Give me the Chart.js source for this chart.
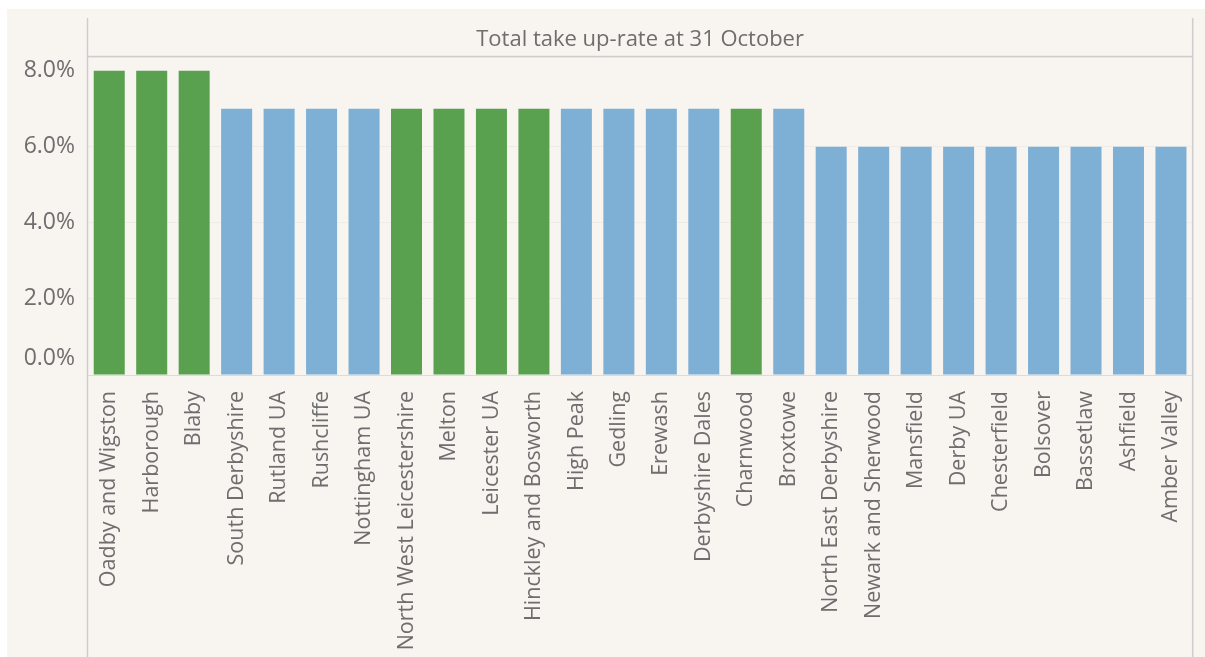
<!DOCTYPE html>
<html>
<head>
<meta charset="utf-8">
<script src="https://cdn.jsdelivr.net/npm/chart.js@4"></script>
<style>
html, body { margin: 0; padding: 0; background: #fff; overflow: hidden; }
#wrap { position: absolute; left: 7px; top: 9px; width: 1198px; height: 648px; background: #f8f4f0; }
</style>
</head>
<body>
<div id="wrap"><canvas id="chart" width="1198" height="648"></canvas></div>
<script>
// values (percent)
var categories = [
	'Oadby and Wigston', 'Harborough', 'Blaby', 'South Derbyshire', 'Rutland UA',
	'Rushcliffe', 'Nottingham UA', 'North West Leicestershire', 'Melton', 'Leicester UA',
	'Hinckley and Bosworth', 'High Peak', 'Gedling', 'Erewash', 'Derbyshire Dales',
	'Charnwood', 'Broxtowe', 'North East Derbyshire', 'Newark and Sherwood', 'Mansfield',
	'Derby UA', 'Chesterfield', 'Bolsover', 'Bassetlaw', 'Ashfield', 'Amber Valley'
];
var takeUpRate = [
	8.0, 8.0, 8.0, 7.0, 7.0,
	7.0, 7.0, 7.0, 7.0, 7.0,
	7.0, 7.0, 7.0, 7.0, 7.0,
	7.0, 7.0, 6.0, 6.0, 6.0,
	6.0, 6.0, 6.0, 6.0, 6.0, 6.0
];
// L = Leicestershire area (green), O = other (blue)
var area = [
	'L', 'L', 'L', 'O', 'O',
	'O', 'O', 'L', 'L', 'L',
	'L', 'O', 'O', 'O', 'O',
	'L', 'O', 'O', 'O', 'O',
	'O', 'O', 'O', 'O', 'O', 'O'
];
var yTicks = [ 0, 2, 4, 6, 8 ];
var chartTitle = 'Total take up-rate at 31 October';

var GREEN = '#59a14f';
var BLUE = '#7eb0d6';
var TEXT = '#6e6e6e';
var FONT = '"Open Sans", sans-serif';

var frame = {
	id: 'frame',
	afterDraw: function( chart ) {
		var ctx = chart.ctx;
		var a = chart.chartArea;
		var y = chart.scales.y;
		ctx.save();
		ctx.strokeStyle = '#cdcdcd';
		ctx.lineWidth = 1.5;
		ctx.beginPath();
		ctx.moveTo( a.left - 0.5, 9 );
		ctx.lineTo( a.left - 0.5, chart.height );
		ctx.moveTo( a.right + 0.5, 9 );
		ctx.lineTo( a.right + 0.5, chart.height );
		ctx.moveTo( a.left, a.top - 1 );
		ctx.lineTo( a.right, a.top - 1 );
		ctx.stroke();

		// y tick labels, bottom one kept above the axis like the original
		ctx.fillStyle = TEXT;
		ctx.font = '23px ' + FONT;
		ctx.textAlign = 'right';
		ctx.textBaseline = 'middle';
		yTicks.forEach( function( v ) {
			var py = Math.min( y.getPixelForValue( v ), a.bottom - 17 );
			ctx.fillText( v.toFixed( 1 ) + '%', a.left - 13, py );
		} );
		ctx.restore();
	}
};

var ctx = document.getElementById( 'chart' );
var chart = new Chart( ctx, {
	type: 'bar',
	data: {
		labels: categories,
		datasets: [ {
			data: takeUpRate,
			backgroundColor: area.map( function( g ) { return g === 'L' ? GREEN : BLUE; } ),
			barPercentage: 0.73,
			categoryPercentage: 1.0,
		} ]
	},
	options: {
		responsive: false,
		animation: false,
		devicePixelRatio: 1,
		layout: { padding: { left: 0, right: 8, top: 0, bottom: 0 } },
		plugins: {
			legend: { display: false },
			tooltip: { enabled: false },
			title: {
				display: true,
				text: chartTitle,
				fullSize: false,
				color: TEXT,
				font: { family: FONT, size: 22, weight: 'normal' },
				padding: { top: 18, bottom: 4 },
			},
		},
		scales: {
			x: {
				grid: { display: false },
				border: { display: true, color: '#dedad6', width: 1 },
				ticks: {
					minRotation: 90,
					maxRotation: 90,
					autoSkip: false,
					padding: 8,
					color: TEXT,
					font: { family: FONT, size: 21.5 },
				},
				afterFit: function( scale ) { scale.height = 282; },
			},
			y: {
				min: 0,
				max: 8.35,
				grid: { color: 'rgba( 0, 0, 0, 0.035 )', drawTicks: false },
				border: { display: false },
				ticks: { display: false, stepSize: 2 },
				afterFit: function( scale ) { scale.width = 81; },
			},
		},
	},
	plugins: [ frame ],
} );
</script>
</body>
</html>
